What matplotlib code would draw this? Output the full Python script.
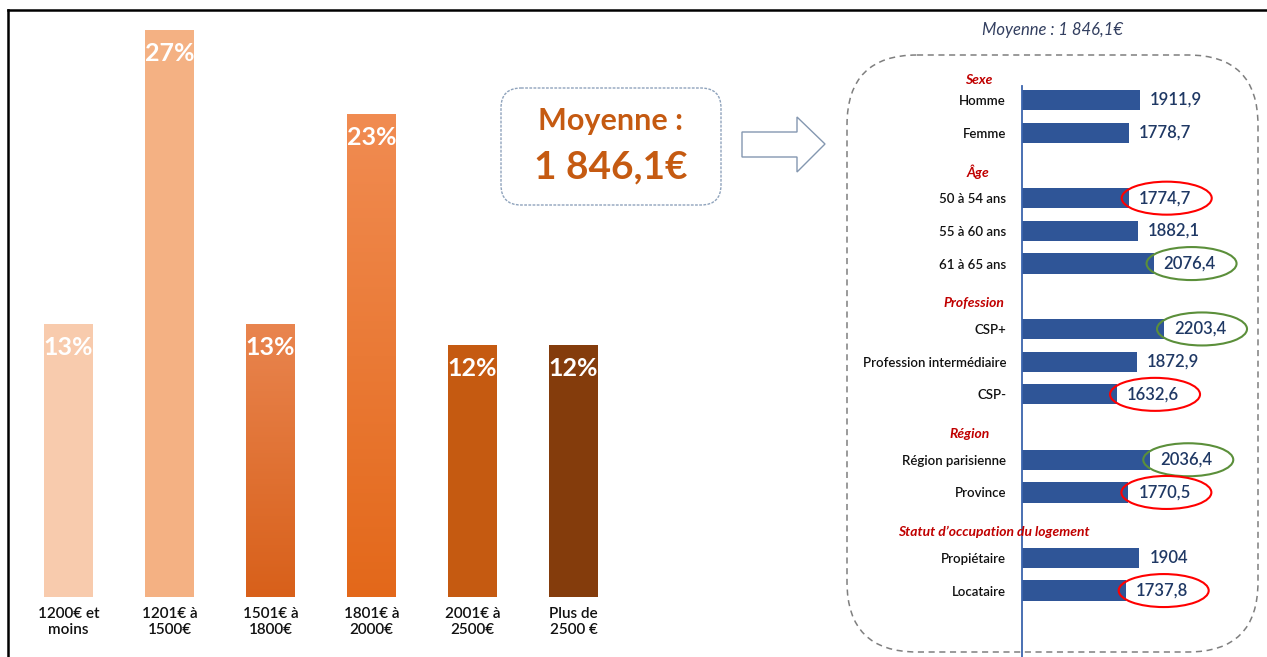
import numpy as np
import matplotlib
matplotlib.use("Agg")
import matplotlib.pyplot as plt
from matplotlib.patches import FancyBboxPatch, Polygon, Ellipse
from matplotlib.colors import LinearSegmentedColormap

plt.rcParams['font.family'] = ['Lato', 'DejaVu Sans']

# ---- data ----
tranches = ['1200€ et\nmoins', '1201€ à\n1500€', '1501€ à\n1800€',
            '1801€ à\n2000€', '2001€ à\n2500€', 'Plus de\n2500 €']
parts = [13, 27, 13, 23, 12, 12]
bar_colors = ['#F8CBAD', '#F4B183', ('#E9854F', '#D8601A'),
              ('#F18C52', '#E3681A'), '#C55A11', '#843C0C']

moyenne = 1846.1

groupes = ['Sexe', 'Âge', 'Profession', 'Région', 'Statut d’occupation du logement']
sexe_labels = ['Homme', 'Femme']
sexe_values = [1911.9, 1778.7]
age_labels = ['50 à 54 ans', '55 à 60 ans', '61 à 65 ans']
age_values = [1774.7, 1882.1, 2076.4]
prof_labels = ['CSP+', 'Profession intermédiaire', 'CSP-']
prof_values = [2203.4, 1872.9, 1632.6]
region_labels = ['Région parisienne', 'Province']
region_values = [2036.4, 1770.5]
logement_labels = ['Propiétaire', 'Locataire']
logement_values = [1904, 1737.8]

cercle_bas = ['50 à 54 ans', 'CSP-', 'Province', 'Locataire']
cercle_haut = ['61 à 65 ans', 'CSP+', 'Région parisienne']

W, H = 1267, 657


def px_rect(x0, y0, x1, y1):
    return [x0 / W, 1 - y1 / H, (x1 - x0) / W, (y1 - y0) / H]


def fmt(v):
    return f'{v:g}'.replace('.', ',')


fig = plt.figure(figsize=(W / 100, H / 100), dpi=100)

# ---- left bar chart ----
ax = fig.add_axes(px_rect(18, 9, 624, 597))
ax.patch.set_visible(False)
x = np.arange(len(tranches))
bars = ax.bar(x, parts, width=0.485)
ax.set_xlim(-0.5, len(tranches) - 0.5)
ax.set_ylim(0, 28)
for b, c in zip(bars, bar_colors):
    if isinstance(c, tuple):
        # vertical gradient clipped to the bar
        b.set_facecolor('none')
        b.set_edgecolor('none')
        cmap = LinearSegmentedColormap.from_list('g', [c[1], c[0]])
        bx, by = b.get_x(), b.get_y()
        im = ax.imshow(np.linspace(0, 1, 256).reshape(-1, 1), cmap=cmap, origin='lower',
                       extent=[bx, bx + b.get_width(), by, by + b.get_height()],
                       aspect='auto', zorder=b.get_zorder())
        im.set_clip_path(b)
    else:
        b.set_facecolor(c)
for i, v in enumerate(parts):
    ax.text(x[i], v - 1.1, f'{v}%', ha='center', va='center', color='white',
            fontsize=18, fontweight='bold')
ax.set_xticks(x)
ax.set_xticklabels(tranches, fontsize=11, color='#111111', linespacing=1.25,
                   fontweight='semibold')
ax.tick_params(axis='x', length=0, pad=7)
ax.set_yticks([])
for s in ax.spines.values():
    s.set_visible(False)

# ---- right horizontal bars ----
rows = [(sexe_labels, sexe_values), (age_labels, age_values), (prof_labels, prof_values),
        (region_labels, region_values), (logement_labels, logement_values)]
ylabels, yvals, ypos, head_pos = [], [], [], []
slot = 0
for k, (labs, vals) in enumerate(rows):
    if k > 0:
        head_pos.append(slot + 0.2)
        slot += 1
    else:
        head_pos.append(-0.6)
    for l, v in zip(labs, vals):
        ylabels.append(l)
        yvals.append(v)
        ypos.append(slot)
        slot += 1

ax2 = fig.add_axes(px_rect(1022, 86, 1250, H))
x_per_px = 12.15
x_min = 478
ax2.set_xlim(x_min, x_min + 228 * x_per_px)
y_per_px = 1 / 32.7
ax2.set_ylim(-0.43 + 571 * y_per_px, -0.43)
ax2.barh(ypos, [v - x_min for v in yvals], left=x_min, height=0.62, color='#2F5597')
ax2.set_yticks(ypos)
ax2.set_yticklabels(ylabels, fontsize=9.5, color='#111111', fontweight='semibold')
ax2.tick_params(axis='y', length=0, pad=11.5)
ax2.set_xticks([])
for n, s in ax2.spines.items():
    s.set_visible(n == 'left')
ax2.spines['left'].set_color('#3B64AD')
ax2.spines['left'].set_linewidth(1.3)
ax2.patch.set_visible(False)

for l, v, y in zip(ylabels, yvals, ypos):
    ax2.text(v + 10 * x_per_px, y, fmt(v), ha='left', va='center', fontsize=12,
             color='#1F3864', fontweight='semibold')
    if l in cercle_bas or l in cercle_haut:
        col = '#FF0000' if l in cercle_bas else '#5B8F3A'
        ax2.add_patch(Ellipse((v + 38 * x_per_px, y), 90 * x_per_px, 33 * y_per_px,
                              fc='none', ec=col, lw=1.5, clip_on=False))

head_x = [-0.19, -0.195, -0.21, -0.23, -0.125]
for g, hy, hx in zip(groupes, head_pos, head_x):
    ax2.text(hx, hy, g, transform=ax2.get_yaxis_transform(), ha='center', va='center',
             color='#C00000', fontsize=10, fontweight='bold', style='italic')

# overlay in pixel units for frame, boxes, arrow
ov = fig.add_axes([0, 0, 1, 1])
ov.set_zorder(5)
ov.set_xlim(0, W)
ov.set_ylim(H, 0)
ov.axis('off')
ov.plot([8, W], [10, 10], color='black', lw=1.8)
ov.plot([8, 8], [10, H], color='black', lw=1.8)

ov.add_patch(FancyBboxPatch((501, 88), 220, 117, boxstyle='round,pad=0,rounding_size=20',
                            fc='white', ec='#8FA3BC', lw=1, ls=(0, (2, 1))))
ov.text(611, 121, 'Moyenne :', ha='center', va='center', color='#C55A11',
        fontsize=22, fontweight='bold')
ov.text(611, 167, '1 846,1€', ha='center', va='center', color='#C55A11',
        fontsize=28, fontweight='bold')

ov.add_patch(Polygon([(742, 132), (797, 132), (797, 117), (825, 144), (797, 172),
                      (797, 157), (742, 157)], closed=True, fc='white', ec='#8497B0', lw=1))

ov.add_patch(FancyBboxPatch((847, 55), 411, 597, boxstyle='round,pad=0,rounding_size=70',
                            fc='none', ec='#7F7F7F', lw=1.1, ls=(0, (4, 3))))
ov.text(1052, 30, 'Moyenne : ' + fmt(moyenne).replace('1846', '1 846') + '€', ha='center',
        va='center', color='#333F60', fontsize=12, style='italic')

fig.savefig('out.png', dpi=100)
